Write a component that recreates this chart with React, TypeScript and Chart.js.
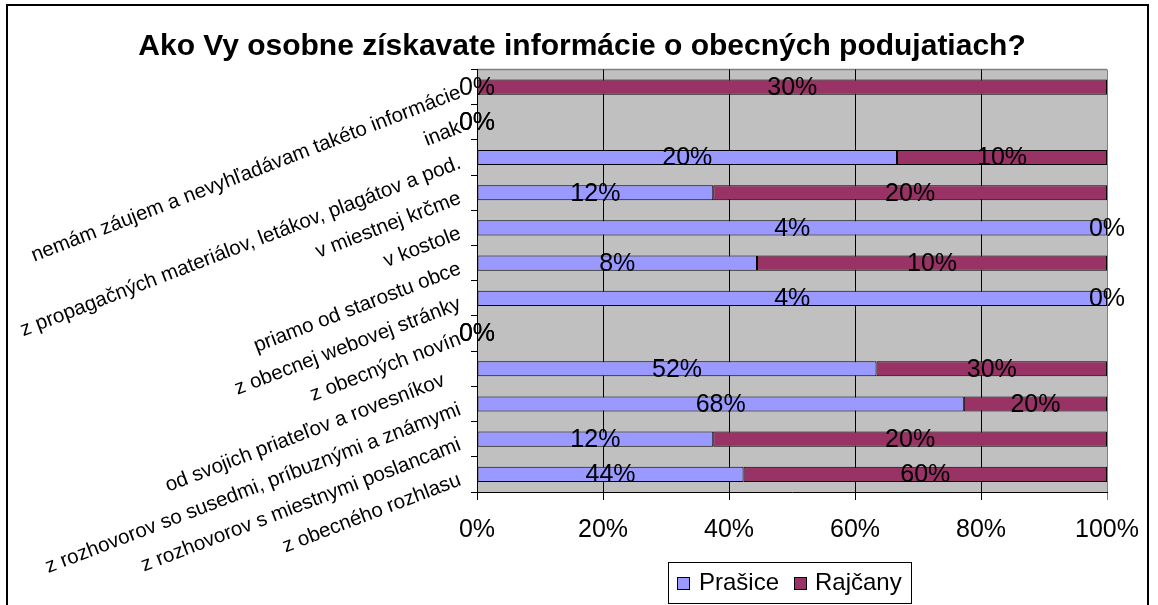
import React, { useEffect, useRef } from "react";
import { Chart, registerables } from "chart.js";

Chart.register(...registerables);

const TITLE = "Ako Vy osobne získavate informácie o obecných podujatiach?";

const categories = [
  "nemám záujem a nevyhľadávam takéto informácie",
  "inak",
  "z propagačných materiálov, letákov, plagátov a pod.",
  "v miestnej krčme",
  "v kostole",
  "priamo od starostu obce",
  "z obecnej webovej stránky",
  "z obecných novín",
  "od svojich priateľov a rovesníkov   ",
  "z rozhovorov so susedmi, príbuznými a známymi",
  "z rozhovorov s miestnymi poslancami",
  "z obecného rozhlasu",
];

const seriesNames = ["Prašice", "Rajčany"];
const seriesColors = ["#9999FF", "#993366"];
const prasice = [0, 0, 20, 12, 4, 8, 4, 0, 52, 68, 12, 44];
const rajcany = [30, 0, 10, 20, 0, 10, 0, 0, 30, 20, 20, 60];
const xTickValues = [0, 20, 40, 60, 80, 100];

const FONT = "'Liberation Sans', Arial, sans-serif";

const share = (a: number, b: number) => (a + b === 0 ? 0 : (a / (a + b)) * 100);

export default function App() {
  const ref = useRef<HTMLCanvasElement | null>(null);

  useEffect(() => {
    const canvas = ref.current;
    if (!canvas) return;
    const raws = [prasice, rajcany];

    const bgPlugin = {
      id: "bg",
      beforeDraw(chart: any) {
        const { ctx, chartArea } = chart;
        ctx.save();
        ctx.fillStyle = "#FFFFFF";
        ctx.fillRect(0, 0, chart.width, chart.height);
        ctx.fillStyle = "#C0C0C0";
        ctx.fillRect(chartArea.left, chartArea.top, chartArea.right - chartArea.left, chartArea.bottom - chartArea.top);
        ctx.strokeStyle = "#808080";
        ctx.lineWidth = 1.5;
        ctx.beginPath();
        ctx.moveTo(chartArea.left, chartArea.top);
        ctx.lineTo(chartArea.right, chartArea.top);
        ctx.stroke();
        // outer frame
        ctx.strokeStyle = "#000000";
        ctx.lineWidth = 2;
        ctx.strokeRect(7, 5, 1141, 620);
        // title
        ctx.fillStyle = "#000000";
        ctx.font = `bold 30px ${FONT}`;
        ctx.textAlign = "center";
        ctx.textBaseline = "middle";
        ctx.fillText(TITLE, 582, 47);
        ctx.restore();
      },
    };

    const labelPlugin = {
      id: "vals",
      afterDatasetsDraw(chart: any) {
        const { ctx } = chart;
        ctx.save();
        ctx.font = `25px ${FONT}`;
        ctx.fillStyle = "#000000";
        ctx.textAlign = "center";
        ctx.textBaseline = "middle";
        chart.data.datasets.forEach((_ds: any, di: number) => {
          const meta = chart.getDatasetMeta(di);
          meta.data.forEach((el: any, i: number) => {
            const p = el.getProps(["x", "base", "y"], true);
            const cx = (p.x + p.base) / 2;
            ctx.fillText(raws[di][i] + "%", cx, p.y + 1);
          });
        });
        ctx.restore();
      },
    };

    const legendPlugin = {
      id: "customLegend",
      afterDraw(chart: any) {
        const { ctx } = chart;
        ctx.save();
        ctx.fillStyle = "#FFFFFF";
        ctx.fillRect(668, 562, 244, 42);
        ctx.strokeStyle = "#000000";
        ctx.lineWidth = 1;
        ctx.strokeRect(668.5, 562.5, 243, 41);
        const items = [
          { x: 677, tx: 699 },
          { x: 794, tx: 815 },
        ];
        ctx.font = `24px ${FONT}`;
        ctx.textAlign = "left";
        ctx.textBaseline = "middle";
        items.forEach((it, i) => {
          ctx.fillStyle = seriesColors[i];
          ctx.fillRect(it.x, 577, 13, 13);
          ctx.strokeStyle = "#000000";
          ctx.strokeRect(it.x + 0.5, 577.5, 12, 12);
          ctx.fillStyle = "#000000";
          ctx.fillText(seriesNames[i], it.tx, 583);
        });
        ctx.restore();
      },
    };

    const chart = new Chart(canvas, {
      type: "bar",
      data: {
        labels: categories,
        datasets: [
          {
            label: seriesNames[0],
            data: prasice.map((v, i) => share(v, rajcany[i])),
            backgroundColor: seriesColors[0],
            borderColor: "#000000",
            borderWidth: 1,
            borderSkipped: false,
            barPercentage: 0.43,
            categoryPercentage: 1,
          },
          {
            label: seriesNames[1],
            data: rajcany.map((v, i) => share(v, prasice[i])),
            backgroundColor: seriesColors[1],
            borderColor: "#000000",
            borderWidth: 1,
            borderSkipped: false,
            barPercentage: 0.43,
            categoryPercentage: 1,
          },
        ],
      },
      options: {
        indexAxis: "y",
        responsive: false,
        animation: false,
        devicePixelRatio: 1,
        layout: { padding: { left: 0, right: 51, top: 69.5, bottom: 0 } },
        plugins: {
          legend: { display: false },
          title: { display: false },
          tooltip: { enabled: false },
        },
        scales: {
          x: {
            stacked: true,
            min: 0,
            max: 100,
            afterBuildTicks: (scale: any) => {
              scale.ticks = xTickValues.map((v) => ({ value: v }));
            },
            ticks: {
              callback: (v: any) => v + "%",
              font: { family: FONT, size: 25 },
              color: "#000000",
              padding: 15,
              maxRotation: 0,
              minRotation: 0,
            },
            grid: {
              color: (c: any) => (c.tick && c.tick.value === 100 ? "#808080" : "#000000"),
              lineWidth: 1,
              tickLength: 8,
              drawTicks: true,
            },
            border: { color: "#000000", width: 1 },
            afterFit: (scale: any) => {
              scale.height = 113;
            },
          },
          y: {
            stacked: true,
            ticks: {
              font: { family: FONT, size: 20.5 },
              color: "#000000",
              minRotation: 21,
              maxRotation: 21,
              padding: 11,
              labelOffset: 5,
              autoSkip: false,
            },
            grid: {
              drawOnChartArea: false,
              color: "#000000",
              tickLength: 6,
              offset: true,
            },
            border: { color: "#000000", width: 1 },
            afterFit: (scale: any) => {
              scale.width = 477;
            },
          },
        },
      },
      plugins: [bgPlugin, labelPlugin, legendPlugin],
    } as any);

    return () => chart.destroy();
  }, []);

  return (
    <div style={{ position: "absolute", left: 0, top: 0, width: 1158, height: 605 }}>
      <canvas ref={ref} width={1158} height={605} style={{ display: "block", width: 1158, height: 605 }} />
    </div>
  );
}
